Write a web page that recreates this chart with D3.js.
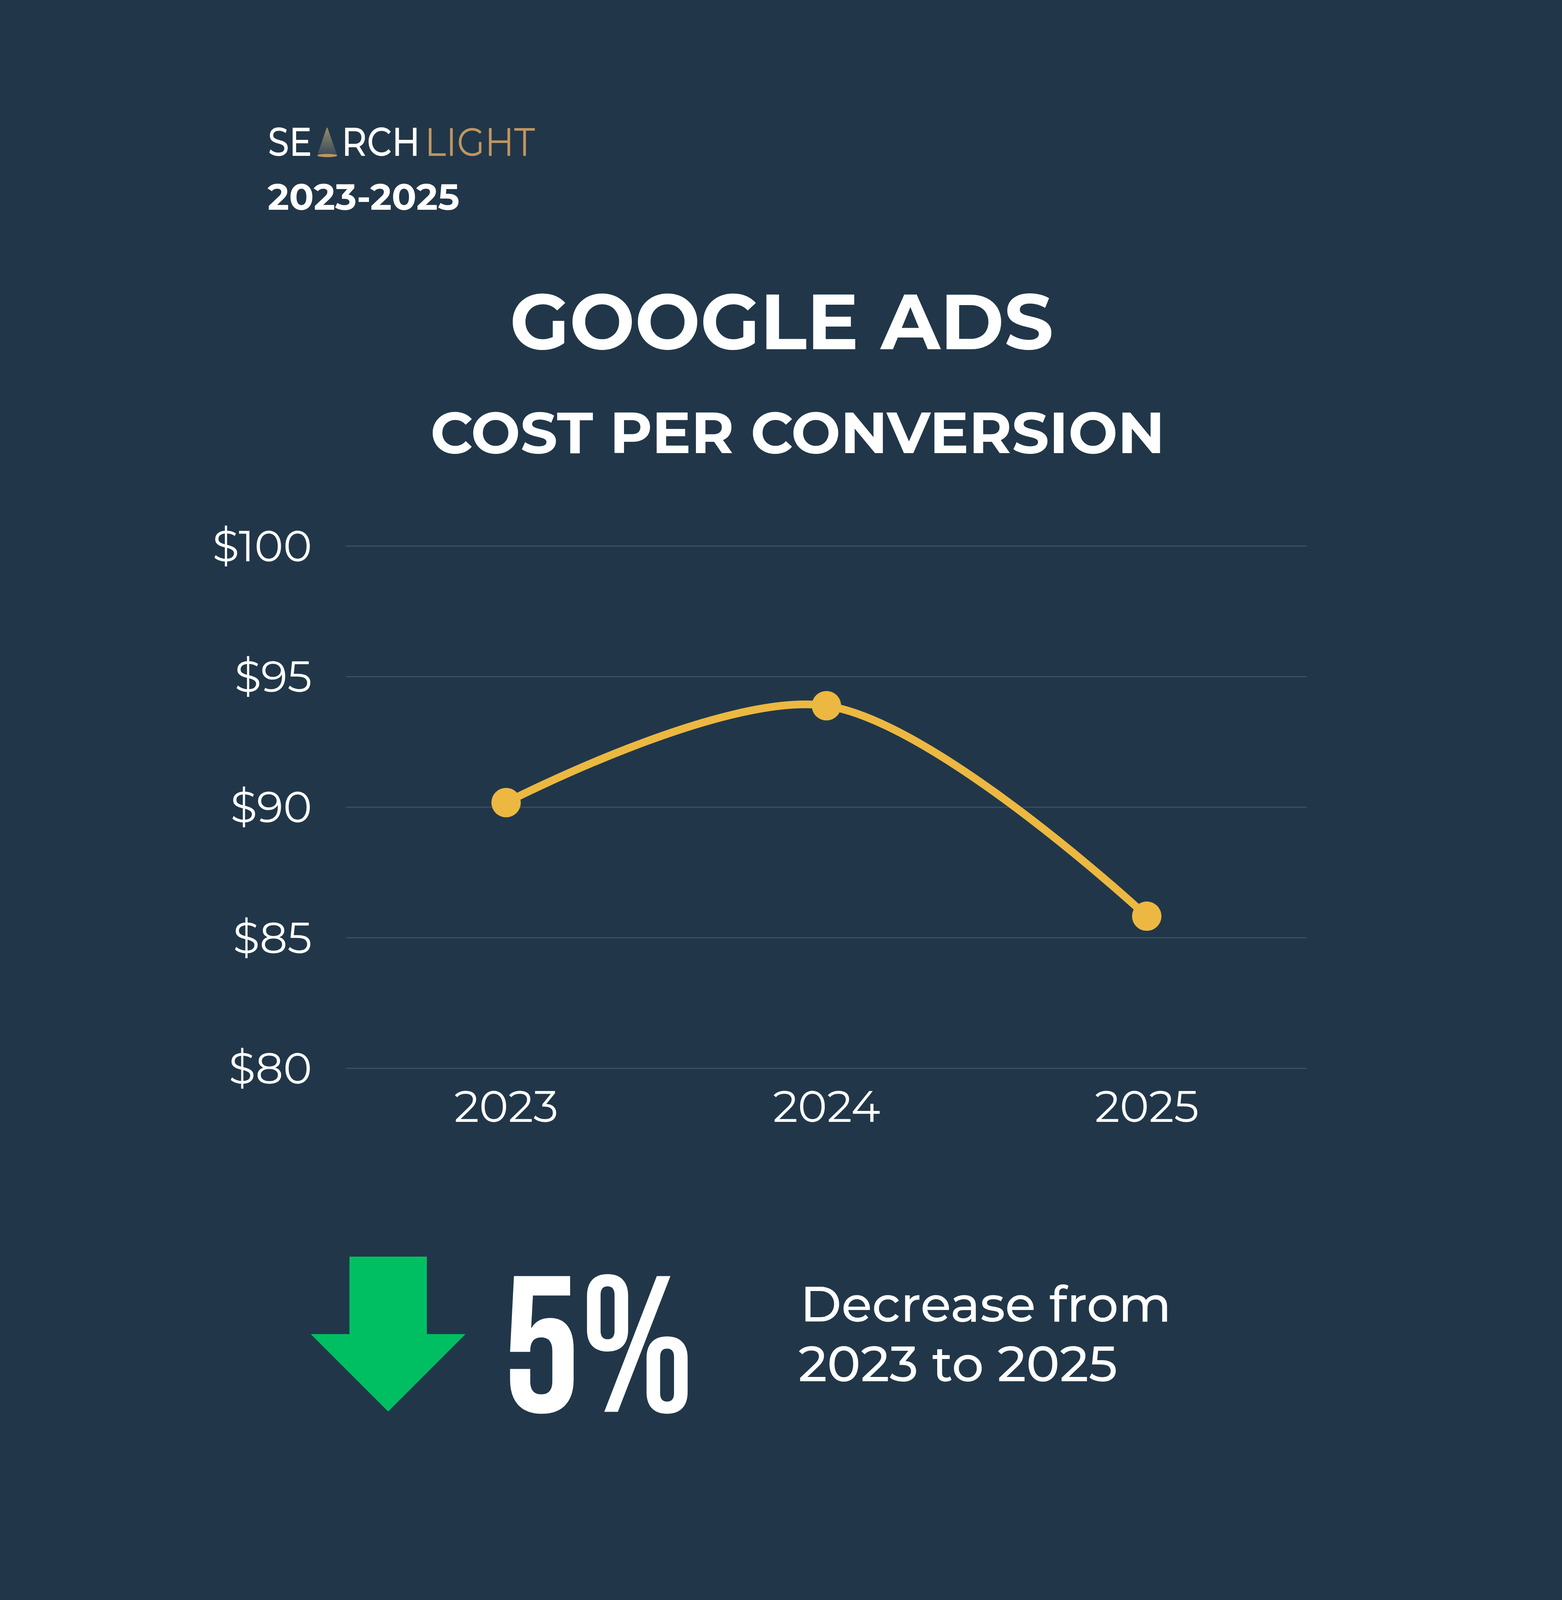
<!DOCTYPE html>
<html>
<head>
<meta charset="utf-8">
<script src="https://cdn.jsdelivr.net/npm/d3@7"></script>
<style>
  html, body { margin: 0; padding: 0; background: #213749; overflow: hidden; }
  svg { display: block; width: 100vw; height: 100vh; }
</style>
</head>
<body>
<div id="chart"></div>
<script>
// chart values
var years = ["2023", "2024", "2025"];
var costs = [90.17, 93.88, 85.82];
var yTicks = [80, 85, 90, 95, 100];
var changePct = 5;

function init(){
    // design size; the svg scales to fit whatever the window gives
    var w = 4000;
    var h = 5000;
    var font = "Montserrat, Inter, 'Open Sans', sans-serif";
    var bg = "#213749";
    var gold = "#ecb841";
    var tan = "#c09660";

    var svg = d3.select("#chart")
                .append("svg")
                .attr("viewBox", "0 0 " + w + " " + h)
                .attr("preserveAspectRatio", "xMidYMid meet");

    svg.append("rect")
        .attr("width", w)
        .attr("height", h)
        .attr("fill", bg);

    // ---- logo ----
    var defs = svg.append("defs");
    var grad = defs.append("linearGradient")
        .attr("id", "beam")
        .attr("x1", 0).attr("y1", 0)
        .attr("x2", 0).attr("y2", 1);
    grad.append("stop").attr("offset", "0%").attr("stop-color", "#9a8a6c");
    grad.append("stop").attr("offset", "100%").attr("stop-color", "#34495b");

    var logo = svg.append("g").attr("font-family", font).attr("font-size", 125);
    logo.append("text")
        .attr("x", 396).attr("y", 487)
        .attr("fill", "#fff").attr("font-weight", 500)
        .attr("textLength", 138).attr("lengthAdjust", "spacingAndGlyphs")
        .text("SE");
    // spotlight beam stands in for the A
    logo.append("path")
        .attr("d", "M579,401 Q581,396 583,401 L613,487 L550,487 Z")
        .attr("fill", "url(#beam)");
    logo.append("ellipse")
        .attr("cx", 582).attr("cy", 486)
        .attr("rx", 31).attr("ry", 5)
        .attr("fill", tan);
    logo.append("text")
        .attr("x", 626).attr("y", 487)
        .attr("fill", "#fff").attr("font-weight", 500)
        .attr("textLength", 246).attr("lengthAdjust", "spacingAndGlyphs")
        .text("RCH");
    logo.append("text")
        .attr("x", 886).attr("y", 487)
        .attr("fill", tan).attr("font-weight", 400)
        .attr("textLength", 345).attr("lengthAdjust", "spacingAndGlyphs")
        .text("LIGHT");

    svg.append("text")
        .attr("x", 395).attr("y", 656)
        .attr("font-family", font).attr("font-weight", 700)
        .attr("font-size", 113).attr("fill", "#fff")
        .attr("textLength", 600).attr("lengthAdjust", "spacingAndGlyphs")
        .text(years[0] + "-" + years[years.length - 1]);

    // ---- titles ----
    svg.append("text")
        .attr("x", 1152).attr("y", 1091)
        .attr("font-family", font).attr("font-weight", 700)
        .attr("font-size", 243).attr("fill", "#fff")
        .attr("textLength", 1700).attr("lengthAdjust", "spacingAndGlyphs")
        .text("GOOGLE ADS");

    svg.append("text")
        .attr("x", 904).attr("y", 1416)
        .attr("font-family", font).attr("font-weight", 700)
        .attr("font-size", 181).attr("fill", "#fff")
        .attr("textLength", 2296).attr("lengthAdjust", "spacingAndGlyphs")
        .text("COST PER CONVERSION");

    // ---- chart ----
    var left = 640, right = 3644, top = 1706, bottom = 3338;

    var xScale = d3.scalePoint()
                    .domain(years)
                    .range([left, right])
                    .padding(0.5);

    var yScale = d3.scaleLinear()
                    .domain([d3.min(yTicks), d3.max(yTicks)])
                    .range([bottom, top]);

    var yAxis = svg.append("g")
        .attr("transform", "translate(" + left + ",0)")
        .call(d3.axisLeft(yScale)
            .tickValues(yTicks)
            .tickSize(-(right - left))
            .tickPadding(106)
            .tickFormat(function(d){ return "$" + d; }));
    yAxis.select(".domain").remove();
    yAxis.selectAll(".tick line")
        .attr("stroke", "#3c5568")
        .attr("stroke-width", 3);
    yAxis.selectAll(".tick text")
        .attr("font-family", font)
        .attr("font-size", 136)
        .attr("fill", "#fff")
        .attr("dy", "0.35em");

    var xAxis = svg.append("g")
        .attr("transform", "translate(0," + bottom + ")")
        .call(d3.axisBottom(xScale)
            .tickSize(0)
            .tickPadding(70));
    xAxis.select(".domain").remove();
    xAxis.selectAll(".tick text")
        .attr("font-family", font)
        .attr("font-size", 138)
        .attr("fill", "#fff");

    var line = d3.line()
        .x(function(d, i){ return xScale(years[i]); })
        .y(function(d){ return yScale(d); })
        .curve(d3.curveCatmullRom);

    svg.append("path")
        .datum(costs)
        .attr("d", line)
        .attr("fill", "none")
        .attr("stroke", gold)
        .attr("stroke-width", 24)
        .attr("stroke-linecap", "round");

    svg.selectAll("circle.pt")
        .data(costs)
        .enter()
        .append("circle")
        .attr("class", "pt")
        .attr("cx", function(d, i){ return xScale(years[i]); })
        .attr("cy", function(d){ return yScale(d); })
        .attr("r", 46)
        .attr("fill", gold);

    // ---- summary ----
    svg.append("path")
        .attr("d", "M651,3927 L893,3927 L893,4169 L1014,4169 L772,4411 L530,4169 L651,4169 Z")
        .attr("fill", "#00bf63");

    svg.append("text")
        .attr("x", 1130).attr("y", 4412)
        .attr("font-family", "'Bebas Neue', Oswald, 'Roboto Condensed', sans-serif")
        .attr("font-size", 606).attr("fill", "#fff")
        .text(changePct + "%");

    svg.append("text")
        .attr("x", 2060).attr("y", 4130)
        .attr("font-family", font).attr("font-weight", 500)
        .attr("font-size", 156).attr("fill", "#fff")
        .attr("textLength", 1160).attr("lengthAdjust", "spacingAndGlyphs")
        .text("Decrease from");

    svg.append("text")
        .attr("x", 2054).attr("y", 4317)
        .attr("font-family", font).attr("font-weight", 500)
        .attr("font-size", 156).attr("fill", "#fff")
        .attr("textLength", 998).attr("lengthAdjust", "spacingAndGlyphs")
        .text(years[0] + " to " + years[years.length - 1]);
}

window.onload = init;
</script>
</body>
</html>
